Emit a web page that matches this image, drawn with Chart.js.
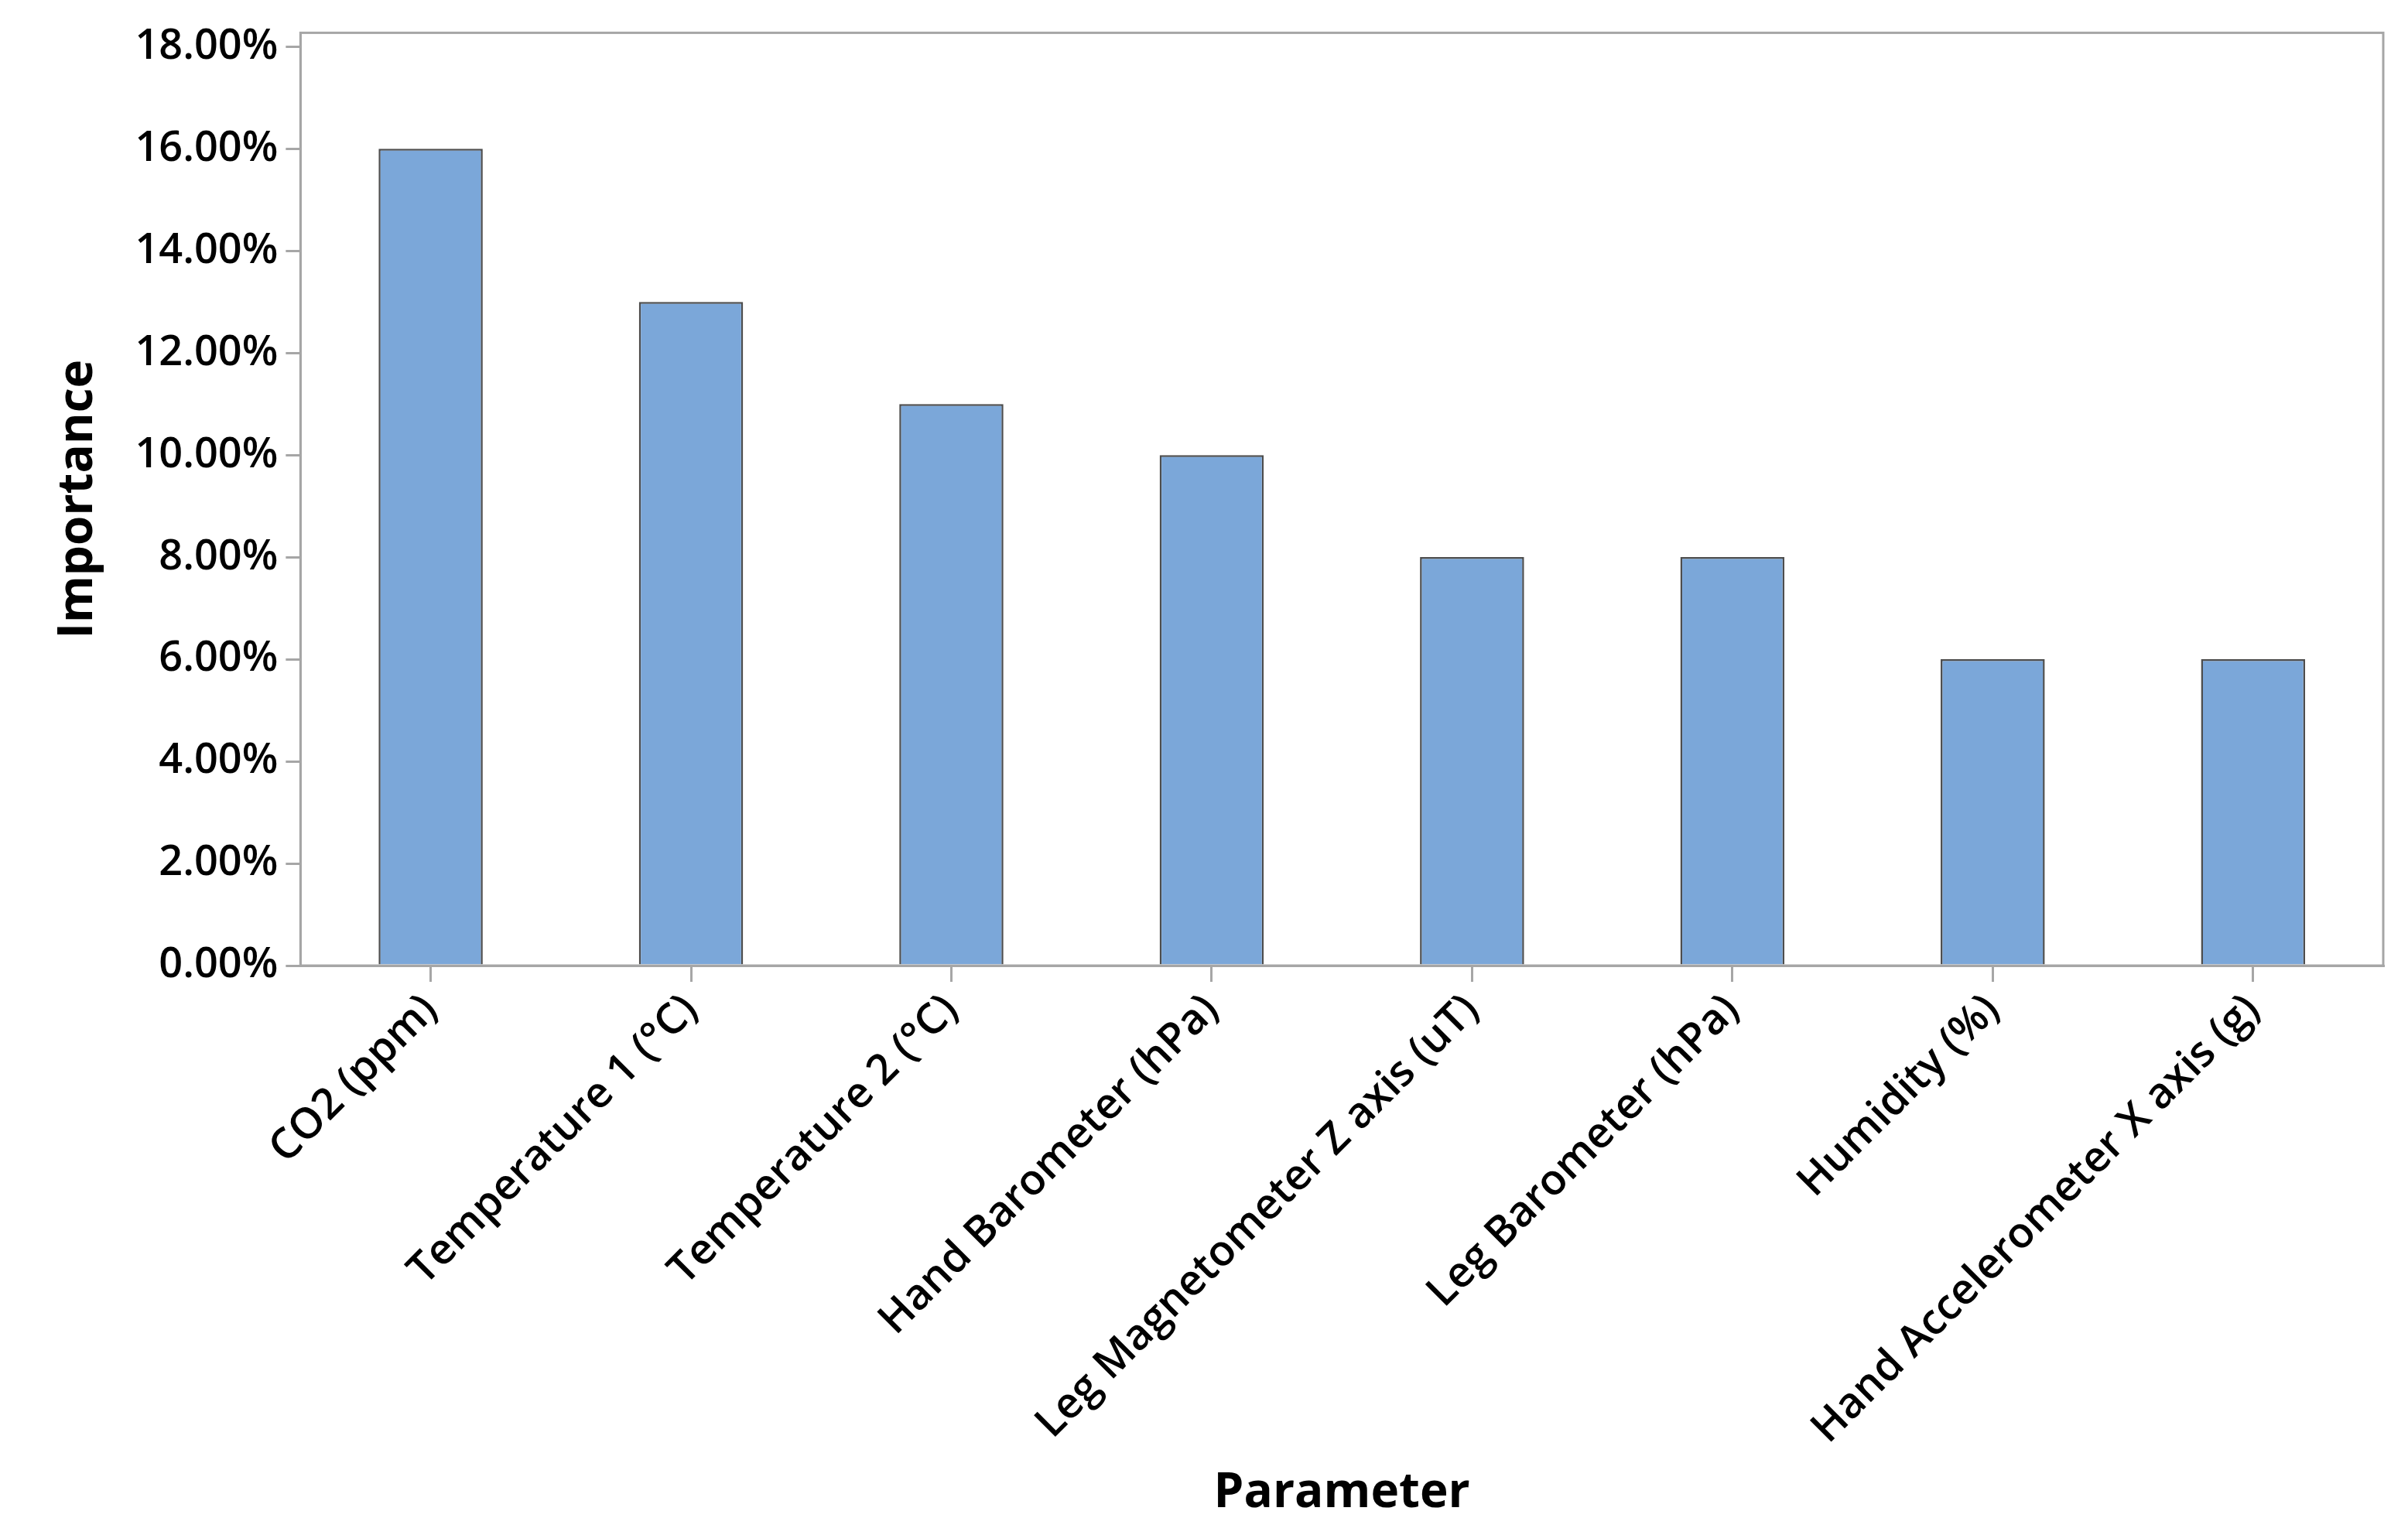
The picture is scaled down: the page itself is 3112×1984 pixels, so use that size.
<!DOCTYPE html>
<html>
<head>
<meta charset="utf-8">
<script src="https://cdn.jsdelivr.net/npm/chart.js@4/dist/chart.umd.min.js"></script>
<style>
  html, body { margin: 0; padding: 0; background: #ffffff; }
  #grafico { display: block; }
</style>
</head>
<body>
<canvas id="grafico" width="3112" height="1984" style="width:3112px;height:1984px"></canvas>
<script>
/* DATOS */
let parametros = ["CO2 (ppm)", "Temperature 1 (°C)", "Temperature 2 (°C)", "Hand Barometer (hPa)",
                  "Leg Magnetometer Z axis (uT)", "Leg Barometer (hPa)", "Humidity (%)", "Hand Accelerometer X axis (g)"]
let importancia = [16, 13, 11, 10, 8, 8, 6, 6]
let ticksY = [0, 2, 4, 6, 8, 10, 12, 14, 16, 18]

const gris = "#a6a6a6"
const fuente = "'Open Sans', 'Noto Sans', sans-serif"

/* marco gris alrededor del area del grafico */
const marcoPlugin = {
    id: "marco",
    afterDraw(chart) {
        const a = chart.chartArea
        const ctx = chart.ctx
        ctx.save()
        ctx.strokeStyle = gris
        ctx.lineWidth = 3
        ctx.strokeRect(a.left, a.top, a.right - a.left, a.bottom - a.top)
        ctx.restore()
    }
}

let ctxGrafico = document.getElementById("grafico").getContext("2d")

let configGrafico = {
    type: "bar",
    data: {
        labels: parametros,
        datasets: [{
            label: "Importance",
            data: importancia,
            backgroundColor: "#7ba7d9",
            borderColor: "#4d4d4d",
            borderWidth: 2.5,
            barPercentage: 0.4,
            categoryPercentage: 1.0
        }]
    },
    options: {
        responsive: false,
        animation: false,
        devicePixelRatio: 1,
        layout: { padding: { left: 64, right: 32, top: 35, bottom: 16 } },
        plugins: {
            legend: { display: false },
            tooltip: { enabled: false }
        },
        scales: {
            x: {
                offset: true,
                grid: { display: true, drawOnChartArea: false, offset: false, color: gris, lineWidth: 3, tickLength: 21 },
                border: { display: true, color: gris, width: 3 },
                ticks: {
                    color: "#000",
                    font: { family: fuente, size: 55, weight: "600" },
                    maxRotation: 45, minRotation: 45,
                    padding: 4,
                    autoSkip: false
                },
                title: {
                    display: true,
                    text: "Parameter",
                    color: "#000",
                    font: { family: fuente, size: 62, weight: "bold" },
                    padding: { top: 10, bottom: 0 }
                }
            },
            y: {
                min: 0,
                max: 18.27,
                afterBuildTicks(scale) {
                    scale.ticks = ticksY.map(v => ({ value: v }))
                },
                grid: { display: true, drawOnChartArea: false, color: gris, lineWidth: 3, tickLength: 19 },
                border: { display: true, color: gris, width: 3 },
                ticks: {
                    color: "#000",
                    font: { family: fuente, size: 54, weight: "600" },
                    padding: 10,
                    callback: v => v.toFixed(2) + "%"
                },
                title: {
                    display: true,
                    text: "Importance",
                    color: "#000",
                    font: { family: fuente, size: 62, weight: "bold" },
                    padding: { top: 0, bottom: 26 }
                }
            }
        }
    },
    plugins: [marcoPlugin]
}

var chart = new Chart(ctxGrafico, configGrafico)
</script>
</body>
</html>
